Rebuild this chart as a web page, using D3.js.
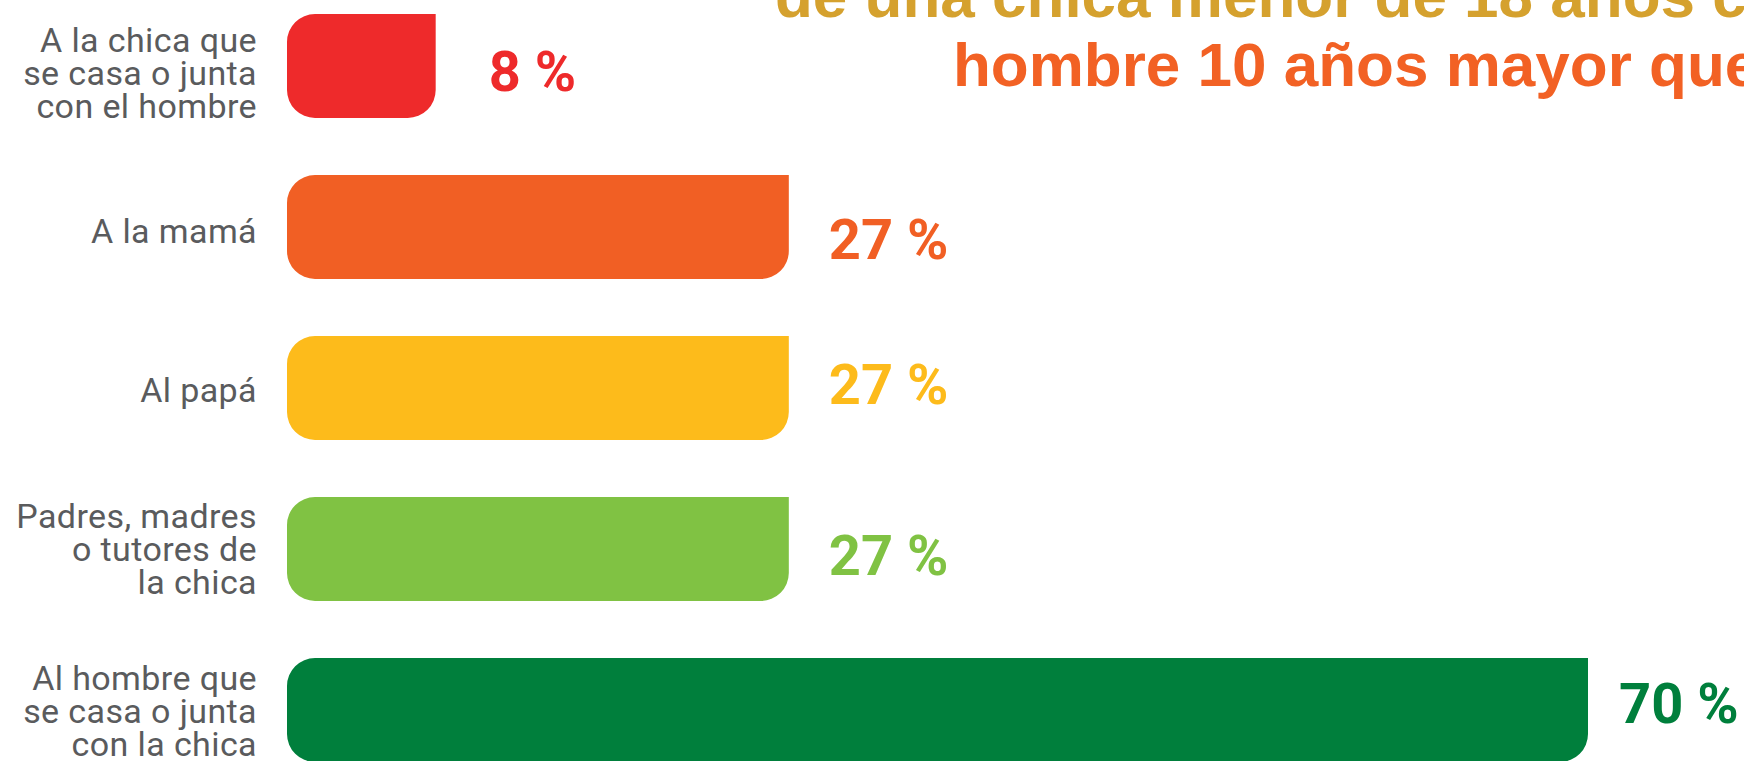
<!DOCTYPE html>
<html>
<head>
<meta charset="utf-8">
<script src="https://cdn.jsdelivr.net/npm/d3@7"></script>
<style>
  html, body { margin: 0; padding: 0; background: #ffffff; }
  svg { display: block; }
</style>
</head>
<body>
<svg id="chart" width="1744" height="761"></svg>
<script>
// ---- data ----
const categories = [
  "A la chica que se casa o junta con el hombre",
  "A la mamá",
  "Al papá",
  "Padres, madres o tutores de la chica",
  "Al hombre que se casa o junta con la chica"
];
const categoryLines = [
  ["A la chica que", "se casa o junta", "con el hombre"],
  ["A la mamá"],
  ["Al papá"],
  ["Padres, madres", "o tutores de", "la chica"],
  ["Al hombre que", "se casa o junta", "con la chica"]
];
const values = [8, 27, 27, 27, 70];
const valueLabels = ["8 %", "27 %", "27 %", "27 %", "70 %"];
const titleLines = ["de una chica menor de 18 años con", "hombre 10 años mayor que"];

// ---- style / layout ----
const colors = ["#ee2a2b", "#f15f24", "#fdbb1b", "#80c243", "#007f3c"];
const titleColors = ["#d5a12e", "#f26124"];
const labelDy = [25, 32, 16, 26, 13];   // value label offset from bar centre
const labelDx = [53, 40, 40, 40, 31];   // value label gap after bar end
const catDy = [7, 4, 2, 0, 1];          // category label offset

const W = 1744, H = 761;
const svg = d3.select("#chart");

const x = d3.scaleLinear().domain([0, 70]).range([287, 1588]);
const y = d3.scaleBand().domain(categories).range([14, 762]).paddingInner(0.354).paddingOuter(0);
const bw = y.bandwidth();
const r = 28;

function barPath(v, cat) {
  const x0 = x(0), x1 = x(v), y0 = y(cat), y1 = y0 + bw;
  const p = d3.path();
  p.moveTo(x0 + r, y0);
  p.lineTo(x1, y0);
  p.lineTo(x1, y1 - r);
  p.arcTo(x1, y1, x1 - r, y1, r);
  p.lineTo(x0 + r, y1);
  p.arcTo(x0, y1, x0, y1 - r, r);
  p.lineTo(x0, y0 + r);
  p.arcTo(x0, y0, x0 + r, y0, r);
  p.closePath();
  return p.toString();
}

// title
svg.append("g").selectAll("text")
  .data(titleLines)
  .join("text")
  .attr("x", (d, i) => i === 0 ? 775 : 953)
  .attr("y", (d, i) => i === 0 ? 17 : 86)
  .attr("fill", (d, i) => titleColors[i])
  .attr("font-family", "'Liberation Sans', Arial, sans-serif")
  .attr("font-weight", "bold")
  .attr("font-size", 62)
  .text(d => d);

// bars
svg.append("g").selectAll("path")
  .data(categories)
  .join("path")
  .attr("d", (d, i) => barPath(values[i], d))
  .attr("fill", (d, i) => colors[i]);

// category labels
const lab = svg.append("g").selectAll("text")
  .data(categories)
  .join("text")
  .attr("text-anchor", "end")
  .attr("font-family", "Roboto, sans-serif")
  .attr("font-size", 34)
  .attr("letter-spacing", 0.4)
  .attr("fill", "#5a5b5d");
lab.each(function(d, i) {
  const lines = categoryLines[i];
  const lh = 33;
  const cy = y(d) + bw / 2 + 12 + catDy[i];
  const start = cy - (lines.length - 1) / 2 * lh;
  d3.select(this).selectAll("tspan")
    .data(lines)
    .join("tspan")
    .attr("x", 257)
    .attr("y", (l, j) => start + j * lh)
    .text(l => l);
});

// value labels
svg.append("g").selectAll("text")
  .data(categories)
  .join("text")
  .attr("x", (d, i) => x(values[i]) + labelDx[i])
  .attr("y", (d, i) => y(d) + bw / 2 + labelDy[i])
  .attr("fill", (d, i) => colors[i])
  .attr("font-family", "Roboto, sans-serif")
  .attr("font-weight", "bold")
  .attr("font-size", 56)
  .text((d, i) => valueLabels[i]);
</script>
</body>
</html>
